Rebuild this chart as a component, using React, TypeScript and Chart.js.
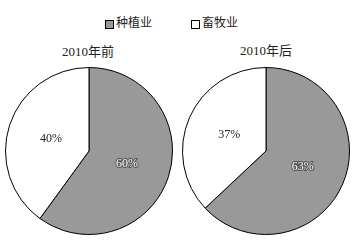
import React, { useEffect, useRef } from "react";
import { Chart, registerables } from "chart.js";

Chart.register(...registerables);

const categories = ["种植业", "畜牧业"];
const titles = ["2010年前", "2010年后"];
const before = [60, 40];
const after = [63, 37];
const colors = ["#999999", "#ffffff"];

const FONT = '"Liberation Serif", "Noto Sans CJK SC", serif';

const labelPlugin = {
  id: "pctLabels",
  afterDatasetsDraw(chart: any) {
    const ctx = chart.ctx;
    const meta = chart.getDatasetMeta(0);
    const data = chart.data.datasets[0].data as number[];
    ctx.save();
    ctx.font = `12px ${FONT}`;
    ctx.textAlign = "center";
    ctx.textBaseline = "middle";
    meta.data.forEach((arc: any, i: number) => {
      const { x, y, startAngle, endAngle, outerRadius } = arc.getProps(
        ["x", "y", "startAngle", "endAngle", "outerRadius"],
        true
      );
      const mid = (startAngle + endAngle) / 2;
      const d = outerRadius * 0.48;
      const lx = x + Math.cos(mid) * d;
      const ly = y + Math.sin(mid) * d;
      const txt = data[i] + "%";
      if (i === 0) {
        ctx.lineWidth = 2;
        ctx.strokeStyle = "#555555";
        ctx.strokeText(txt, lx, ly);
        ctx.fillStyle = "#ffffff";
        ctx.fillText(txt, lx, ly);
      } else {
        ctx.fillStyle = "#222222";
        ctx.fillText(txt, lx, ly);
      }
    });
    ctx.restore();
  },
};

function PieCanvas({ values }: { values: number[] }) {
  const ref = useRef<HTMLCanvasElement | null>(null);
  useEffect(() => {
    if (!ref.current) return;
    const chart = new Chart(ref.current, {
      type: "pie",
      data: {
        labels: categories,
        datasets: [
          {
            data: values,
            backgroundColor: colors,
            borderColor: "#000000",
            borderWidth: 1,
          },
        ],
      },
      options: {
        animation: false,
        responsive: false,
        maintainAspectRatio: false,
        layout: { padding: 0 },
        plugins: {
          legend: { display: false },
          tooltip: { enabled: false },
          title: { display: false },
        },
      },
      plugins: [labelPlugin],
    });
    return () => chart.destroy();
  }, [values]);
  return <canvas ref={ref} width={168} height={168} style={{ width: 168, height: 168 }} />;
}

export default function App() {
  const textStyle: React.CSSProperties = {
    position: "absolute",
    fontFamily: FONT,
    fontSize: 13,
    color: "#222",
    whiteSpace: "nowrap",
    lineHeight: "14px",
  };
  return (
    <div
      style={{
        position: "fixed",
        left: 0,
        top: 0,
        width: 361,
        height: 242,
        background: "#fff",
      }}
    >
      {/* legend */}
      <div
        style={{
          position: "absolute",
          left: 105,
          top: 20,
          width: 7,
          height: 7,
          background: colors[0],
          border: "1px solid #000",
        }}
      />
      <div style={{ ...textStyle, left: 116, top: 16, fontSize: 12 }}>{categories[0]}</div>
      <div
        style={{
          position: "absolute",
          left: 191,
          top: 20,
          width: 7,
          height: 7,
          background: colors[1],
          border: "1px solid #000",
        }}
      />
      <div style={{ ...textStyle, left: 202, top: 16, fontSize: 12 }}>{categories[1]}</div>

      {/* titles */}
      <div style={{ ...textStyle, left: 88, top: 45, transform: "translateX(-50%)" }}>{titles[0]}</div>
      <div style={{ ...textStyle, left: 266, top: 44, transform: "translateX(-50%)" }}>{titles[1]}</div>

      <div style={{ position: "absolute", left: 5, top: 67 }}>
        <PieCanvas values={before} />
      </div>
      <div style={{ position: "absolute", left: 182, top: 67 }}>
        <PieCanvas values={after} />
      </div>
    </div>
  );
}
